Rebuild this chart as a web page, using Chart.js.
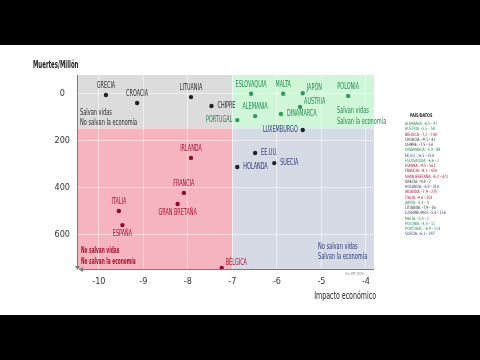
<!DOCTYPE html>
<html>
<head>
<meta charset="utf-8">
<script src="https://cdn.jsdelivr.net/npm/chart.js@4"></script>
<style>
html, body { margin: 0; padding: 0; background: #000; width: 480px; height: 360px; overflow: hidden; }
#wrap { position: absolute; left: 0; top: 45px; width: 480px; height: 270px; background: #fff; }
</style>
</head>
<body>
<div id="wrap"><canvas id="grafico" width="480" height="270"></canvas></div>
<script>
// datos
const paises = ['GRECIA', 'CROACIA', 'LITUANIA', 'CHIPRE', 'PORTUGAL', 'ESLOVAQUIA', 'MALTA', 'JAPÓN', 'POLONIA',
    'ALEMANIA', 'AUSTRIA', 'DINAMARCA', 'LUXEMBURGO', 'EE.UU.', 'HOLANDA', 'SUECIA', 'IRLANDA', 'FRANCIA',
    'GRAN BRETAÑA', 'ITALIA', 'ESPAÑA', 'BÉLGICA']
const impacto = [-9.84, -9.14, -7.93, -7.47, -6.89, -6.58, -5.86, -5.42, -4.4,
    -6.49, -5.48, -5.91, -5.42, -6.49, -6.89, -6.06, -7.93, -8.09,
    -8.23, -9.55, -9.47, -7.24]
const muertes = [7, 41, 16, 54, 114, 2, 2, 0, 11,
    97, 58, 88, 156, 254, 314, 297, 275, 424,
    471, 501, 561, 744]
const xTicks = [-10, -9, -8, -7, -6, -5, -4]
const yTicks = [0, 200, 400, 600]
const corteX = -7
const corteY = 150
const ordenLista = ['ALEMANIA', 'AUSTRIA', 'BÉLGICA', 'CROACIA', 'CHIPRE', 'DINAMARCA', 'EE.UU.', 'ESLOVAQUIA',
    'ESPAÑA', 'FRANCIA', 'GRAN BRETAÑA', 'GRECIA', 'HOLANDA', 'IRLANDA', 'ITALIA', 'JAPÓN', 'LITUANIA',
    'LUXEMBURGO', 'MALTA', 'POLONIA', 'PORTUGAL', 'SUECIA']

// colocación de etiquetas
const posEtiqueta = {
    'CHIPRE': 'right', 'PORTUGAL': 'left', 'JAPÓN': 'topright', 'AUSTRIA': 'topright',
    'DINAMARCA': 'right', 'LUXEMBURGO': 'left', 'EE.UU.': 'right', 'HOLANDA': 'right',
    'SUECIA': 'right', 'GRAN BRETAÑA': 'bottom', 'ESPAÑA': 'bottom', 'BÉLGICA': 'topright',
}

const colores = {
    verde: { fondo: '#d0f6d9', texto: '#22894f', punto: '#2a9d5c' },
    gris: { fondo: '#dcdcdc', texto: '#2b2b2b', punto: '#222222' },
    rojo: { fondo: '#f5b4be', texto: '#a3122f', punto: '#8f0b26' },
    azul: { fondo: '#d6dae4', texto: '#2e3a78', punto: '#1e2233' },
}
const FUENTE = '"DejaVu Sans Condensed", "DejaVu Sans", sans-serif'

function grupo(i) {
    const arriba = muertes[i] < corteY
    const derecha = impacto[i] > corteX
    if (arriba) return derecha ? 'verde' : 'gris'
    return derecha ? 'azul' : 'rojo'
}

function texto(ctx, s, x, y, o) {
    const size = o.size || 8, weight = o.weight || 'normal', sx = o.sx || 0.68
    ctx.save()
    ctx.font = `${weight} ${size}px ${FUENTE}`
    const w = ctx.measureText(s).width * sx
    let left = x
    if (o.align === 'center') left = x - w / 2
    else if (o.align === 'right') left = x - w
    ctx.translate(left, y)
    ctx.scale(sx, 1)
    ctx.textAlign = 'left'
    ctx.textBaseline = 'middle'
    ctx.fillStyle = o.color || '#333'
    ctx.fillText(s, 0, 0)
    ctx.restore()
}

const cuadrantes = {
    id: 'cuadrantes',
    beforeDraw(chart) {
        const { ctx, chartArea: a, scales: { x, y } } = chart
        const cx = x.getPixelForValue(corteX)
        const cy = y.getPixelForValue(corteY)
        ctx.save()
        ctx.fillStyle = colores.gris.fondo
        ctx.fillRect(a.left, a.top, cx - a.left, cy - a.top)
        ctx.fillStyle = colores.verde.fondo
        ctx.fillRect(cx, a.top, a.right - cx, cy - a.top)
        ctx.fillStyle = colores.rojo.fondo
        ctx.fillRect(a.left, cy, cx - a.left, a.bottom - cy)
        ctx.fillStyle = colores.azul.fondo
        ctx.fillRect(cx, cy, a.right - cx, a.bottom - cy)
        ctx.restore()
    },
}

const anotaciones = {
    id: 'anotaciones',
    afterDatasetsDraw(chart) {
        const { ctx, chartArea: a, scales: { x, y } } = chart

        // etiquetas de países
        paises.forEach((p, i) => {
            const px = x.getPixelForValue(impacto[i])
            const py = y.getPixelForValue(muertes[i])
            const c = colores[grupo(i)].texto
            const pos = posEtiqueta[p] || 'top'
            if (pos === 'top') texto(ctx, p, px, py - 9, { align: 'center', color: c })
            else if (pos === 'bottom') texto(ctx, p, px, py + 9, { align: 'center', color: c })
            else if (pos === 'left') texto(ctx, p, px - 5, py, { align: 'right', color: c })
            else if (pos === 'right') texto(ctx, p, px + 6, py, { color: c })
            else texto(ctx, p, px + 4, py - 5.5, { color: c })
        })

        // textos de cuadrantes
        const cy = y.getPixelForValue(corteY)
        texto(ctx, 'Salvan vidas', a.left + 3, cy - 16, { color: colores.gris.texto, sx: 0.7 })
        texto(ctx, 'No salvan la economía', a.left + 3, cy - 6, { color: colores.gris.texto, sx: 0.7 })
        texto(ctx, 'Salvan vidas', 337, cy - 18, { color: colores.verde.texto, sx: 0.7 })
        texto(ctx, 'Salvan la economía', 337, cy - 7, { color: colores.verde.texto, sx: 0.7 })
        texto(ctx, 'No salvan vidas', a.left + 4, a.bottom - 18, { color: colores.rojo.texto, weight: 'bold', sx: 0.6 })
        texto(ctx, 'No salvan la economía', a.left + 4, a.bottom - 7, { color: colores.rojo.texto, weight: 'bold', sx: 0.6 })
        texto(ctx, 'No salvan vidas', 318, a.bottom - 22, { color: colores.azul.texto, sx: 0.7 })
        texto(ctx, 'Salvan la economía', 318, a.bottom - 12, { color: colores.azul.texto, sx: 0.7 })

        // ejes con flechas
        ctx.save()
        ctx.strokeStyle = '#7a7a7a'
        ctx.fillStyle = '#7a7a7a'
        ctx.lineWidth = 1
        ctx.beginPath()
        ctx.moveTo(a.left + 0.5, a.top)
        ctx.lineTo(a.left + 0.5, a.bottom - 2)
        ctx.moveTo(a.left + 2, a.bottom + 0.5)
        ctx.lineTo(a.right, a.bottom + 0.5)
        ctx.stroke()
        ctx.beginPath()
        ctx.moveTo(a.left + 0.5, a.bottom + 1)
        ctx.lineTo(a.left - 2, a.bottom - 3)
        ctx.lineTo(a.left + 3, a.bottom - 3)
        ctx.closePath()
        ctx.fill()
        ctx.beginPath()
        ctx.moveTo(a.left + 2, a.bottom + 0.5)
        ctx.lineTo(a.left + 6, a.bottom - 2)
        ctx.lineTo(a.left + 6, a.bottom + 3)
        ctx.closePath()
        ctx.fill()
        ctx.restore()

        // títulos
        texto(ctx, 'Muertes/Millón', 33, 20, { size: 10, weight: 'bold', color: '#222', sx: 0.6 })
        texto(ctx, 'Impacto económico', a.right + 2, 251, { size: 10, color: '#222', align: 'right', sx: 0.7 })
        texto(ctx, 'Vía IMF 2020', 364, 229, { size: 4, color: '#888', align: 'right', sx: 0.8 })

        // lista de datos
        texto(ctx, 'PAÍS/DATOS', 410, 71, { size: 5, weight: 'bold', color: '#222', sx: 0.75 })
        ordenLista.forEach((p, k) => {
            const i = paises.indexOf(p)
            const s = `${p}: ${impacto[i].toFixed(1).replace('.', ',')} - ${muertes[i]}`
            texto(ctx, s, 405, 79 + k * 5.25, { size: 4.5, color: colores[grupo(i)].texto, sx: 0.8 })
        })
    },
}

const grafico = new Chart(document.getElementById('grafico').getContext('2d'), {
    type: 'scatter',
    data: {
        datasets: [
            {
                data: paises.map((p, i) => ({ x: impacto[i], y: muertes[i] })),
                backgroundColor: paises.map((p, i) => colores[grupo(i)].punto),
                borderWidth: 0,
                pointRadius: 2.2,
                clip: false,
            },
        ],
    },
    options: {
        responsive: false,
        animation: false,
        layout: { padding: { top: 30, right: 106, left: 0, bottom: 0 } },
        plugins: {
            legend: { display: false },
            tooltip: { enabled: false },
        },
        scales: {
            x: {
                type: 'linear',
                min: -10.49,
                max: -3.82,
                afterBuildTicks: s => { s.ticks = xTicks.map(v => ({ value: v })) },
                afterFit: s => { s.height = 46 },
                grid: { color: 'rgba(255,255,255,0.5)', drawTicks: false },
                border: { display: false },
                ticks: { color: '#333', padding: 7, font: { family: FUENTE, size: 9 } },
            },
            y: {
                reverse: true,
                min: -78,
                max: 748,
                afterBuildTicks: s => { s.ticks = yTicks.map(v => ({ value: v })) },
                afterFit: s => { s.width = 77 },
                grid: { color: 'rgba(255,255,255,0.5)', drawTicks: false },
                border: { display: false },
                ticks: { color: '#333', padding: 7, crossAlign: 'center', font: { family: FUENTE, size: 9 } },
            },
        },
    },
    plugins: [cuadrantes, anotaciones],
})
</script>
</body>
</html>
